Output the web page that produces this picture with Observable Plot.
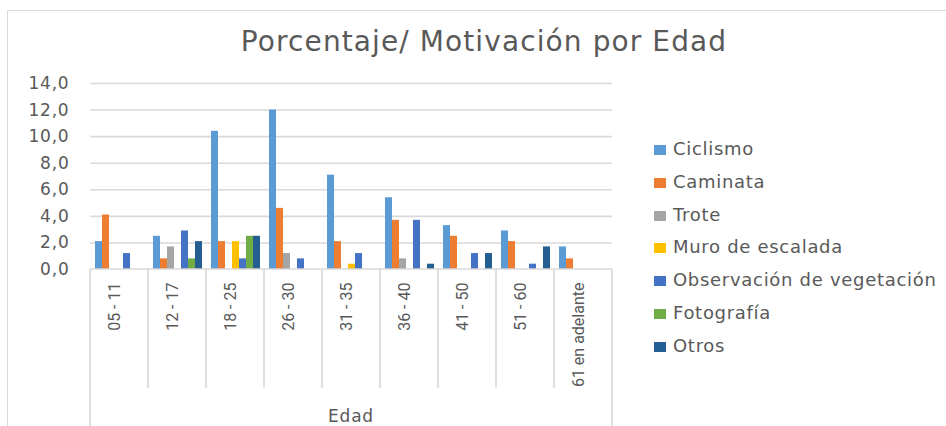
<!DOCTYPE html>
<html>
<head>
<meta charset="utf-8">
<script src="https://cdn.jsdelivr.net/npm/d3@7"></script>
<script src="https://cdn.jsdelivr.net/npm/@observablehq/plot@0.6"></script>
<style>
  html, body { margin: 0; padding: 0; background: #fff; }
  body { width: 946px; height: 426px; overflow: hidden; font-family: "DejaVu Sans", sans-serif; }
  #wrap { position: relative; width: 946px; height: 426px; overflow: hidden; }
  #border { position: absolute; left: 7px; top: 10px; width: 1000px; height: 1000px; border: 1.5px solid #d9d9d9; box-sizing: border-box; }
  #chart { position: absolute; left: 0; top: 0; }
  #title { position: absolute; left: 0; top: 26px; width: 968px; text-align: center; font-size: 28px; letter-spacing: 1.1px; line-height: 32px; color: #595959; }
  #legend { position: absolute; left: 654px; top: 0; }
  .item { position: absolute; left: 0; white-space: nowrap; font-size: 18px; letter-spacing: 0.7px; line-height: 22px; color: #595959; }
  .sw { display: inline-block; width: 12px; height: 10px; margin-right: 7px; vertical-align: 0px; }
</style>
</head>
<body>
<div id="wrap">
  <div id="border"></div>
  <div id="chart"></div>
  <div id="title">Porcentaje/ Motivación por Edad</div>
  <div id="legend"></div>
</div>
<script>
const ages = ["05 - 11", "12 - 17", "18 - 25", "26 - 30", "31 - 35", "36 - 40", "41 - 50", "51 - 60", "61 en adelante"];
const series = ["Ciclismo", "Caminata", "Trote", "Muro de escalada", "Observación de vegetación", "Fotografía", "Otros"];
const colors = ["#5B9BD5", "#ED7D31", "#A5A5A5", "#FFC000", "#4472C4", "#70AD47", "#255E91"];
const ciclismo = [2.1, 2.5, 10.4, 12.0, 7.1, 5.4, 3.3, 2.9, 1.7];
const caminata = [4.1, 0.8, 2.1, 4.6, 2.1, 3.7, 2.5, 2.1, 0.8];
const trote = [0, 1.7, 0, 1.2, 0, 0.8, 0, 0, 0];
const muro = [0, 0, 2.1, 0, 0.4, 0, 0, 0, 0];
const observacion = [1.2, 2.9, 0.8, 0.8, 1.2, 3.7, 1.2, 0.4, 0];
const fotografia = [0, 0.8, 2.5, 0, 0, 0, 0, 0, 0];
const otros = [0, 2.1, 2.5, 0, 0, 0.4, 1.2, 1.7, 0];
const yTicks = [0, 2, 4, 6, 8, 10, 12, 14];
const xTitle = "Edad";

const seriesValues = [ciclismo, caminata, trote, muro, observacion, fotografia, otros];
const rows = [];
series.forEach((s, i) => ages.forEach((a, j) => rows.push({age: a, serie: s, value: seriesValues[i][j]})));

const fmt = d => d.toFixed(1).replace(".", ",");

const plot = Plot.plot({
  width: 946,
  height: 426,
  marginLeft: 90,
  marginRight: 334,
  marginTop: 83,
  marginBottom: 157,
  style: {fontFamily: "DejaVu Sans", fontSize: "17px", letterSpacing: "0.8px", color: "#595959", background: "transparent", overflow: "visible"},
  fx: {domain: ages, padding: 0, axis: null, label: null},
  x: {domain: series, paddingInner: 0, paddingOuter: 0.64, axis: null, label: null},
  y: {domain: [0, 14], ticks: yTicks, tickFormat: fmt, tickSize: 0, tickPadding: 21, label: null},
  color: {domain: series, range: colors},
  marks: [
    Plot.ruleY(yTicks.filter(t => t > 0), {y: d => d, stroke: "#d9d9d9", strokeWidth: 1.6}),
    Plot.barY(rows.filter(d => d.value > 0), {fx: "age", x: "serie", y: "value", fill: "serie", inset: 0}),
    Plot.text(ages, {fx: d => d, text: d => d, frameAnchor: "bottom", rotate: -90, textAnchor: "end", dy: 13,
      fontSize: 16, fontFamily: "Roboto", fill: "#595959"})
  ]
});
document.getElementById("chart").appendChild(plot);

const svg = d3.select(plot);
// category labels without extra letter spacing
svg.selectAll('g[aria-label="text"]').style("letter-spacing", "0px");

// category boxes below the axis, using the plot's own scales
const fxs = plot.scale("fx");
const ys = plot.scale("y");
const fxApply = fxs.apply ? (v => fxs.apply(v)) : (() => {
  const s = d3.scaleBand().domain(fxs.domain).range(fxs.range).paddingInner(fxs.paddingInner || 0).paddingOuter(fxs.paddingOuter || 0);
  return v => s(v);
})();
const bw = fxs.bandwidth;
const y0 = ys.apply ? ys.apply(0) : 269;
const bounds = ages.map(a => fxApply(a)).concat([fxApply(ages[ages.length - 1]) + bw]);
const g = svg.append("g").attr("stroke", "#d9d9d9").attr("stroke-width", 1.6);
g.append("line").attr("x1", bounds[0]).attr("x2", bounds[bounds.length - 1]).attr("y1", y0).attr("y2", y0);
bounds.forEach((b, i) => {
  const outer = i === 0 || i === bounds.length - 1;
  g.append("line").attr("x1", b).attr("x2", b).attr("y1", y0).attr("y2", outer ? 430 : 388);
});
svg.append("text")
  .attr("x", (bounds[0] + bounds[bounds.length - 1]) / 2)
  .attr("y", 422)
  .attr("text-anchor", "middle")
  .attr("fill", "#595959")
  .attr("font-size", 17)
  .attr("font-family", "DejaVu Sans")
  .text(xTitle);

// legend
const legend = document.getElementById("legend");
series.forEach((s, i) => {
  const div = document.createElement("div");
  div.className = "item";
  div.style.top = (149 - 11 + 32.8 * i) + "px";
  const sw = document.createElement("span");
  sw.className = "sw";
  sw.style.background = colors[i];
  div.appendChild(sw);
  div.appendChild(document.createTextNode(s));
  legend.appendChild(div);
});
</script>
</body>
</html>
